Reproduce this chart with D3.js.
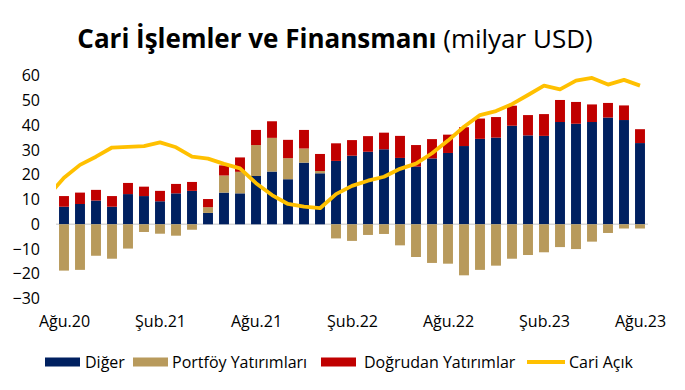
<!DOCTYPE html>
<html>
<head>
<meta charset="utf-8">
<script src="https://cdn.jsdelivr.net/npm/d3@7/dist/d3.min.js"></script>
<style>
  html, body { margin: 0; padding: 0; background: #fff; }
  svg { display: block; font-family: "Open Sans", "Noto Sans", sans-serif; }
</style>
</head>
<body>
<svg id="chart" width="685" height="390"></svg>
<script>
// ---- Data ----
const months = ["Ağu.20","Eyl.20","Eki.20","Kas.20","Ara.20","Oca.21","Şub.21","Mar.21","Nis.21","May.21","Haz.21","Tem.21",
  "Ağu.21","Eyl.21","Eki.21","Kas.21","Ara.21","Oca.22","Şub.22","Mar.22","Nis.22","May.22","Haz.22","Tem.22",
  "Ağu.22","Eyl.22","Eki.22","Kas.22","Ara.22","Oca.23","Şub.23","Mar.23","Nis.23","May.23","Haz.23","Tem.23","Ağu.23"];
const diger = [7.1,8.2,9.6,7.1,12.2,11.4,9.3,12.5,13.5,4.6,12.8,12.5,
  19.5,21.3,18.2,24.9,20.6,25.6,27.7,29.3,30.3,26.8,23.3,26.6,
  28.8,31.6,34.5,35.0,39.8,35.9,35.7,41.3,40.6,41.3,43.1,42.1,32.8];
const portfoy = [-18.7,-18.4,-12.7,-13.9,-9.8,-3.1,-3.8,-4.6,-2.2,2.3,6.9,8.7,
  12.5,13.6,8.5,5.7,0.9,-5.7,-6.7,-4.3,-3.9,-8.5,-13.2,-15.6,
  -15.9,-20.6,-18.4,-16.7,-13.9,-12.4,-11.3,-9.2,-10.0,-7.0,-3.5,-1.7,-1.7];
const dogrudan = [4.3,4.6,4.3,4.3,4.5,3.8,4.2,3.8,3.6,3.3,4.1,5.8,
  6.1,6.7,7.4,7.5,6.9,7.1,6.3,6.3,6.7,8.9,8.7,7.8,
  7.4,7.6,8.2,8.3,8.1,8.2,8.8,8.9,8.8,7.1,5.9,5.9,5.6];
// Cari Açık line (first point Tem.20 lies just left of the plot and is clipped)
const lineMonths = ["Tem.20"].concat(months);
const cariAcik = [11.5,18.8,24.0,27.3,31.0,31.3,31.6,33.1,31.1,27.3,26.5,24.4,22.6,
  16.6,11.8,8.2,7.1,6.5,12.2,15.5,17.6,19.2,22.4,24.5,28.7,
  33.8,39.4,44.1,45.7,48.5,52.2,56.0,54.5,58.0,59.1,56.4,58.3,56.0];
const yTicks = [-30,-20,-10,0,10,20,30,40,50,60];
const xTickLabels = ["Ağu.20","Şub.21","Ağu.21","Şub.22","Ağu.22","Şub.23","Ağu.23"];
const seriesNames = ["Diğer","Portföy Yatırımları","Doğrudan Yatırımlar","Cari Açık"];
const colors = {"Diğer":"#002060","Portföy Yatırımları":"#B89A5C","Doğrudan Yatırımlar":"#C00000","Cari Açık":"#FFC000"};

// ---- Layout ----
const svg = d3.select("#chart");
const plot = {left: 56, right: 648, top: 75.7, bottom: 298.6};

const x = d3.scaleLinear().domain([-0.5, months.length - 0.5]).range([plot.left, plot.right]);
const step = x(1) - x(0);
const barW = step * 0.62;
const y = d3.scaleLinear().domain([-30, 60]).range([plot.bottom, plot.top]);

// Title
const title = svg.append("text").attr("x", 335).attr("y", 48).attr("text-anchor", "middle")
  .style("font-size", "26px").attr("fill", "#000");
title.append("tspan").style("font-weight", "700").text("Cari İşlemler ve Finansmanı");
title.append("tspan").style("font-weight", "400").text(" (milyar USD)");

// Zero line
svg.append("line").attr("x1", plot.left).attr("x2", plot.right)
  .attr("y1", y(0)).attr("y2", y(0)).attr("stroke", "#D9D9D9").attr("stroke-width", 1.5);

// Stacked bars
const rows = months.map((m, i) => ({i, "Diğer": diger[i], "Portföy Yatırımları": portfoy[i], "Doğrudan Yatırımlar": dogrudan[i]}));
const stack = d3.stack().keys(seriesNames.slice(0, 3)).offset(d3.stackOffsetDiverging);
const layers = stack(rows);
svg.append("g").selectAll("g").data(layers).join("g")
  .attr("fill", d => colors[d.key])
  .selectAll("rect").data(d => d).join("rect")
  .attr("x", d => x(d.data.i) - barW / 2)
  .attr("width", barW)
  .attr("y", d => y(Math.max(d[0], d[1])))
  .attr("height", d => Math.abs(y(d[0]) - y(d[1])));

// Line (clipped to plot area)
svg.append("clipPath").attr("id", "clip").append("rect")
  .attr("x", plot.left).attr("y", 0).attr("width", plot.right - plot.left).attr("height", 390);
const line = d3.line().x((d, k) => x(k - 1)).y(d => y(d));
svg.append("path").datum(cariAcik).attr("d", line).attr("fill", "none")
  .attr("stroke", colors["Cari Açık"]).attr("stroke-width", 3.8)
  .attr("stroke-linejoin", "round").attr("clip-path", "url(#clip)");

// Y axis
const yAxis = svg.append("g").attr("transform", `translate(40,0)`)
  .call(d3.axisLeft(y).tickValues(yTicks).tickSize(0).tickPadding(0).tickFormat(d3.format("d")));
yAxis.select(".domain").remove();
yAxis.selectAll("text").style("font-size", "16px").style("font-family", "Open Sans").attr("fill", "#000");

// X axis
const xAxis = svg.append("g").attr("transform", `translate(0,${plot.bottom})`)
  .call(d3.axisBottom(x).tickValues(xTickLabels.map(l => months.indexOf(l)))
    .tickFormat(i => months[i]).tickSize(0).tickPadding(0));
xAxis.select(".domain").remove();
xAxis.selectAll("text").attr("dy", null).attr("y", 28.5)
  .style("font-size", "16px").style("font-family", "Open Sans").attr("fill", "#000");

// Legend
const legendItems = [
  {name: "Diğer", x: 45, tx: 85, type: "rect"},
  {name: "Portföy Yatırımları", x: 133, tx: 172, type: "rect"},
  {name: "Doğrudan Yatırımlar", x: 321, tx: 364, type: "rect"},
  {name: "Cari Açık", x: 527, tx: 569, type: "line"}
];
const lg = svg.append("g").attr("transform", "translate(0,362)");
legendItems.forEach(it => {
  if (it.type === "rect") {
    lg.append("rect").attr("x", it.x).attr("y", -4.5).attr("width", 35).attr("height", 9).attr("fill", colors[it.name]);
  } else {
    lg.append("line").attr("x1", it.x).attr("x2", it.x + 38).attr("y1", 0).attr("y2", 0)
      .attr("stroke", colors[it.name]).attr("stroke-width", 3.8);
  }
  lg.append("text").attr("x", it.tx).attr("y", 5.5)
    .style("font-size", "16px").attr("fill", "#000").text(it.name);
});
</script>
</body>
</html>
